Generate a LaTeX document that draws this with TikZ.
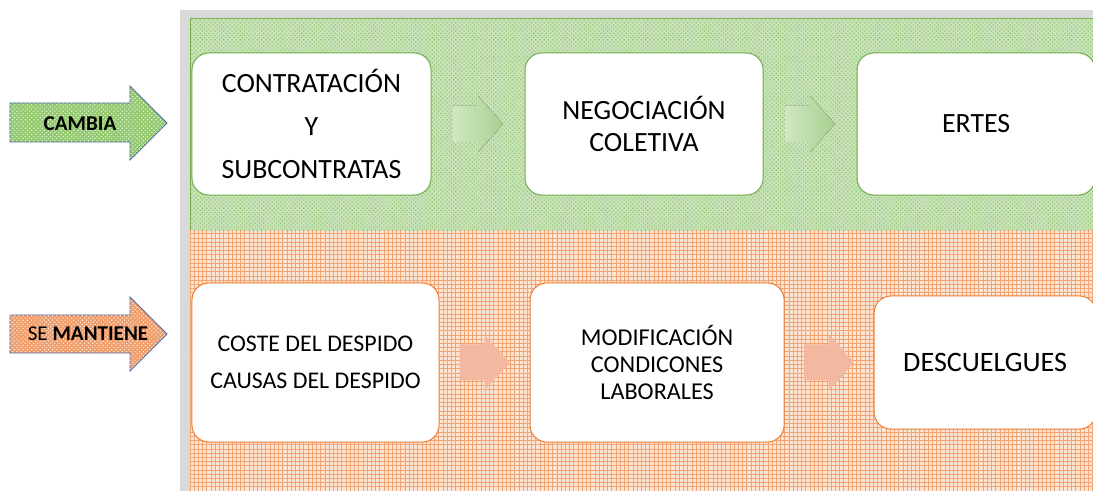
\documentclass[tikz,border=0pt]{standalone}
\usepackage{fontspec}
\setmainfont{Carlito}
\usetikzlibrary{positioning}
\usetikzlibrary{calc}
\usetikzlibrary{patterns}
\definecolor{mgreen}{RGB}{112,173,71}
\definecolor{morange}{RGB}{237,125,49}
\definecolor{mgray}{RGB}{217,217,217}
\definecolor{mblue}{RGB}{72,104,168}
\definecolor{lgreen}{RGB}{200,226,184}
\definecolor{pgreen}{RGB}{140,192,105}
\definecolor{lorange}{RGB}{253,229,213}
\definecolor{porange}{RGB}{242,165,115}
\definecolor{agreen}{RGB}{150,200,112}
\definecolor{aorange}{RGB}{240,158,108}
\definecolor{sgreenl}{RGB}{208,232,195}
\definecolor{sgreenr}{RGB}{168,208,142}
\definecolor{sorange}{RGB}{243,184,160}
\tikzset{franja verde/.style = {draw=mgreen, line width=0.6pt, fill=lgreen,
                                postaction={pattern=crosshatch dots, pattern color=pgreen}}}
\tikzset{franja naranja/.style = {fill=lorange,
                                  postaction={pattern=grid, pattern color=porange}}}
\tikzset{caja/.style = {fill=white, rounded corners=12, line width=0.7pt,
                        align=center, inner sep=2pt}}
\tikzset{caja verde/.style = {caja, draw=mgreen}}
\tikzset{caja naranja/.style = {caja, draw=morange}}
\tikzset{flecha/.style = {draw=mblue, line width=0.7pt, line join=miter}}
\tikzset{flechita verde/.style = {left color=sgreenl, right color=sgreenr}}
\tikzset{flechita naranja/.style = {fill=sorange}}
\tikzset{etiqueta/.style = {font=\fontsize{15}{18}\selectfont, inner sep=0}}
\newcommand{\flechita}[2]{%
  \begin{scope}[shift={(#1)}]
    \fill [#2] (-25, -18) -- (0, -18) -- (0, -28) -- (25, 0) -- (0, 28) -- (0, 18)
      -- (-25, 18) -- cycle;
  \end{scope}}

\begin{document}
\begin{tikzpicture}[x=0.025cm, y=-0.025cm]
    \useasboundingbox (0, 0) rectangle (1093, 491);
    \fill [mgray] (180, 10) rectangle (1093, 491);
    \draw [franja verde] (190, 18) rectangle (1094, 231);
    \fill [franja naranja] (190, 231) rectangle (1093, 491);

    % fila de arriba
    \node [caja verde, minimum width=5.975cm, minimum height=3.55cm,
           font=\fontsize{19.8}{30.5}\selectfont] (contratacion) at (311.5, 124)
          {CONTRATACIÓN\\Y\\SUBCONTRATAS};
    \node [caja verde, minimum width=5.95cm, minimum height=3.55cm,
           font=\fontsize{19.8}{22.5}\selectfont, right=2.325cm of contratacion] (negociacion)
          {NEGOCIACIÓN\\COLETIVA};
    \node [caja verde, minimum width=5.95cm, minimum height=3.55cm,
           font=\fontsize{19.8}{22.5}\selectfont, right=2.325cm of negociacion] (ertes)
          {ERTES};

    % fila de abajo
    \node [caja naranja, minimum width=6.175cm, minimum height=3.975cm,
           font=\fontsize{17}{26}\selectfont] (coste) at (315.5, 362.5)
          {COSTE DEL DESPIDO\\CAUSAS DEL DESPIDO};
    \node [caja naranja, minimum width=6.35cm, minimum height=3.975cm,
           font=\fontsize{17.2}{19.5}\selectfont, right=2.25cm of coste] (modificacion)
          {MODIFICACIÓN\\CONDICONES\\LABORALES};
    \node [caja naranja, minimum width=5.55cm, minimum height=3.325cm,
           font=\fontsize{20}{24}\selectfont, right=2.225cm of modificacion] (descuelgues)
          {DESCUELGUES};

    \coordinate (f1) at ($(contratacion.east)!0.5!(negociacion.west)$);
    \coordinate (f2) at ($(negociacion.east)!0.5!(ertes.west)$);
    \coordinate (f3) at ($(coste.east)!0.5!(modificacion.west)$);
    \coordinate (f4) at ($(modificacion.east)!0.5!(descuelgues.west)$);
    \flechita{f1}{flechita verde}
    \flechita{f2}{flechita verde}
    \flechita{f3}{flechita naranja}
    \flechita{f4}{flechita naranja}

    % flechas de la izquierda
    \draw [flecha, fill=agreen, postaction={pattern=crosshatch dots, pattern color=green!10!white}]
        (10, 103) -- (130, 103) -- (130, 86) -- (167, 123) -- (130, 160) -- (130, 142)
        -- (10, 142) -- cycle;
    \node [etiqueta] (cambia) at (80, 124) {\textbf{CAMBIA}};
    \draw [flecha, fill=aorange, postaction={pattern=crosshatch dots, pattern color=orange!10!white}]
        (10, 315) -- (130, 315) -- (130, 297) -- (167, 334) -- (130, 371) -- (130, 353)
        -- (10, 353) -- cycle;
    \node [etiqueta] (mantiene) at (88, 334) {SE \textbf{MANTIENE}};
\end{tikzpicture}
\end{document}
